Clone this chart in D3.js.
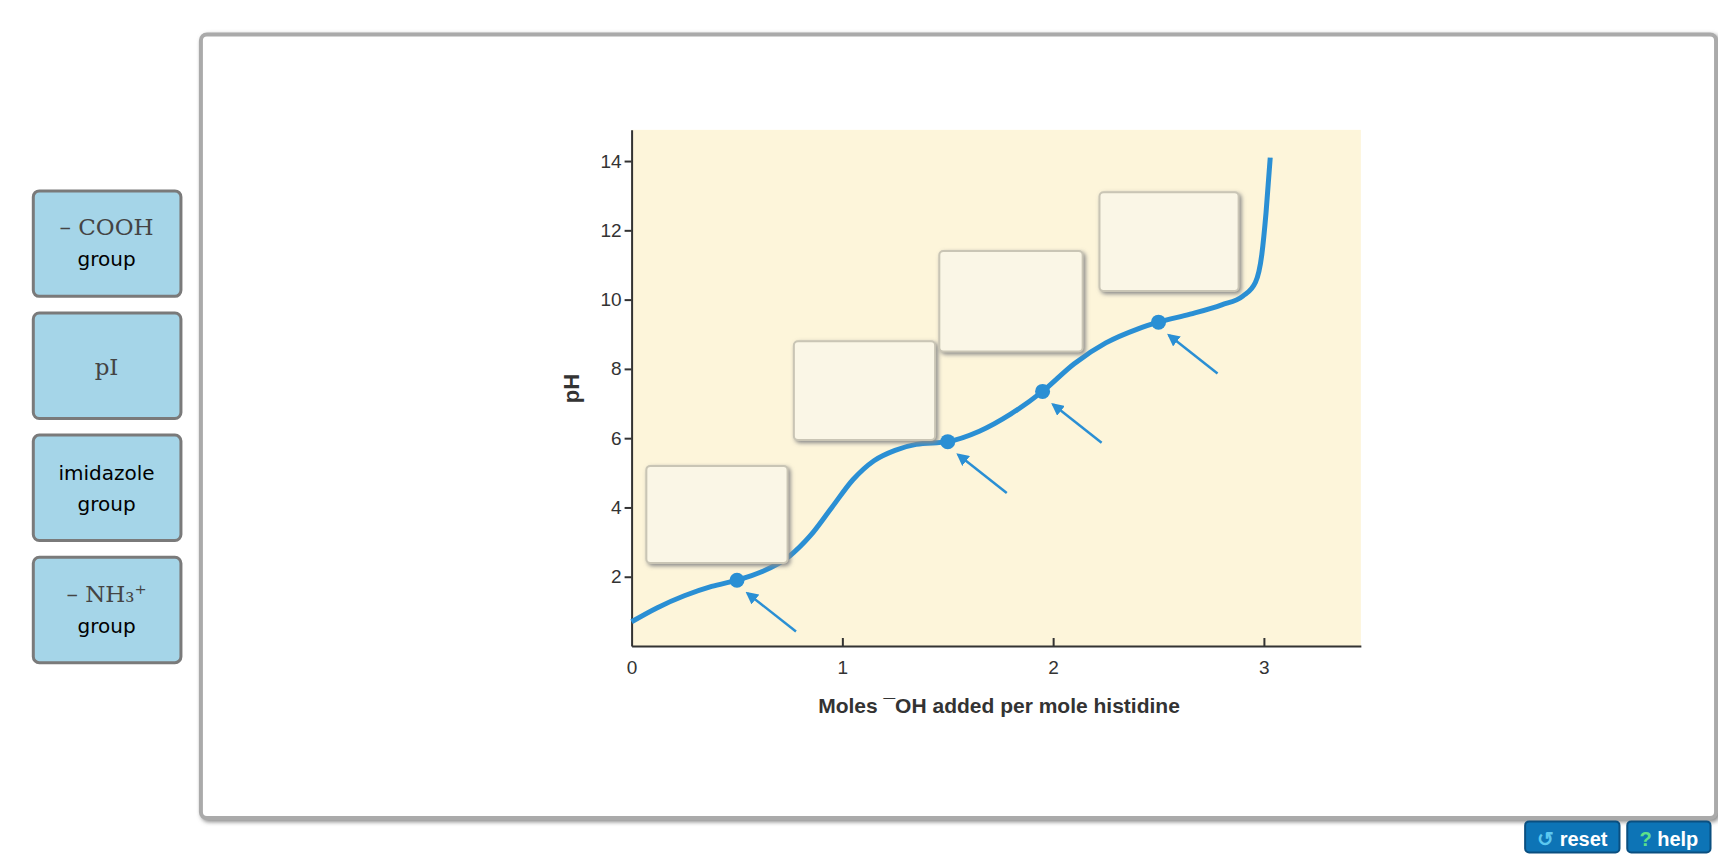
<!DOCTYPE html>
<html><head><meta charset="utf-8">
<script src="https://cdn.jsdelivr.net/npm/d3@7"></script>
<style>body{margin:0;background:#fff;overflow:hidden}</style>
</head><body>
<svg id="c" width="1718" height="858"></svg>
<script>
// titration curve of histidine (pH vs moles OH- added)
var curveX = [0, 0.12, 0.25, 0.38, 0.5, 0.62, 0.75, 0.85, 0.95, 1.05, 1.15, 1.25, 1.35, 1.5, 1.65, 1.8, 1.95, 2.1, 2.25, 2.4, 2.5, 2.65, 2.8, 2.9, 2.96, 2.99, 3.01, 3.03];
var curveY = [0.7, 1.1, 1.45, 1.72, 1.9, 2.15, 2.6, 3.2, 4.0, 4.8, 5.35, 5.65, 5.82, 5.9, 6.2, 6.7, 7.35, 8.15, 8.75, 9.15, 9.35, 9.58, 9.85, 10.1, 10.5, 11.3, 12.5, 14.1];
var pointX = [0.5, 1.5, 1.95, 2.5];
var pointY = [1.9, 5.9, 7.35, 9.35];
var yTicks = [2, 4, 6, 8, 10, 12, 14];
var xTicks = [0, 1, 2, 3];
var labels = ["– COOH|group", "pI|", "imidazole|group", "– NH₃⁺|group"];
// drop targets [x0,x1,yTop,yBottom] in data units
var boxX0 = [0.07, 0.77, 1.46, 2.22], boxX1 = [0.74, 1.44, 2.14, 2.88];
var boxY0 = [5.2, 8.8, 11.4, 13.1], boxY1 = [2.4, 5.95, 8.5, 10.25];

var f = 1.11;
var svg = d3.select("#c");
var defs = svg.append("defs");
var fl = defs.append("filter").attr("id", "sh").attr("x", "-5%").attr("y", "-5%").attr("width", "115%").attr("height", "115%");
fl.append("feDropShadow").attr("dx", 2).attr("dy", 2).attr("stdDeviation", 2).attr("flood-color", "#888");

// panel
svg.append("rect").attr("x", 181*f).attr("y", 31*f).attr("width", 1365*f).attr("height", 706*f).attr("rx", 6)
  .attr("fill", "#fff").attr("stroke", "#aaa").attr("stroke-width", 4).attr("filter", "url(#sh)");

// label tiles
labels.forEach(function(t, i) {
  var y = (172 + i*110)*f, parts = t.split("|");
  svg.append("rect").attr("x", 30*f).attr("y", y).attr("width", 133*f).attr("height", 95*f).attr("rx", 6)
    .attr("fill", "#a5d5e8").attr("stroke", "#7a7a7a").attr("stroke-width", 3);
  var math = parts[0];
  var single = parts[1] === "";
  var plain = math === "imidazole";
  svg.append("text").attr("x", 96*f).attr("y", y + (single ? 56 : 40)*f).attr("text-anchor", "middle")
    .attr("font-family", plain ? "DejaVu Sans" : "DejaVu Serif, serif").attr("font-size", plain ? 20 : 23)
    .attr("fill", plain ? "#000" : "#444").text(math);
  if (!single) svg.append("text").attr("x", 96*f).attr("y", y + 68*f).attr("text-anchor", "middle")
    .attr("font-family", "DejaVu Sans").attr("font-size", 20).text(parts[1]);
});

// chart
var x = d3.scaleLinear().domain([0, 3.46]).range([569*f, 1226*f]);
var y = d3.scaleLinear().domain([0, 14.9]).range([582*f, 117*f]);
svg.append("rect").attr("x", x(0)).attr("y", y(14.9)).attr("width", x(3.46)-x(0)).attr("height", y(0)-y(14.9)).attr("fill", "#fdf5da");

svg.append("g").attr("transform", "translate(0," + y(0) + ")")
  .call(d3.axisBottom(x).tickValues(xTicks).tickFormat(d3.format("d")).tickSize(-8).tickPadding(14).tickSizeOuter(0))
  .call(function(g){ g.selectAll("text").attr("font-family","Liberation Sans").attr("font-size",19).attr("fill","#333"); g.selectAll("line,path").attr("stroke","#333").attr("stroke-width",2); g.selectAll(".tick").filter(function(d){return d===0;}).select("line").remove(); });
svg.append("g").attr("transform", "translate(" + x(0) + ",0)")
  .call(d3.axisLeft(y).tickValues(yTicks).tickSize(7).tickSizeOuter(0))
  .call(function(g){ g.selectAll("text").attr("font-family","Liberation Sans").attr("font-size",19).attr("fill","#333"); g.selectAll("line,path").attr("stroke","#333").attr("stroke-width",2); });

svg.append("text").attr("transform", "translate(" + 522*f + "," + 350*f + ") rotate(-90)").attr("text-anchor", "middle")
  .attr("font-family", "Liberation Sans").attr("font-weight", "bold").attr("font-size", 22).attr("fill", "#333").text("pH");
svg.append("text").attr("x", 900*f).attr("y", 642*f).attr("text-anchor", "middle")
  .attr("font-family", "Liberation Sans").attr("font-weight", "bold").attr("font-size", 21).attr("fill", "#333")
  .text("Moles ¯OH added per mole histidine");

var line = d3.line().x(function(d){return x(d[0]);}).y(function(d){return y(d[1]);}).curve(d3.curveMonotoneX);
svg.append("path").datum(curveX.map(function(v, i){ return [v, curveY[i]]; }))
  .attr("d", line).attr("fill", "none").attr("stroke", "#2a8fd4").attr("stroke-width", 5);

defs.append("marker").attr("id", "ah").attr("viewBox", "0 0 10 10").attr("refX", 8).attr("refY", 5)
  .attr("markerWidth", 5).attr("markerHeight", 5).attr("orient", "auto")
  .append("path").attr("d", "M0,0L10,5L0,10z").attr("fill", "#2a8fd4");
pointX.forEach(function(px, i) {
  var py = pointY[i];
  svg.append("line").attr("x1", x(px + 0.28)).attr("y1", y(py - 1.48)).attr("x2", x(px + 0.05)).attr("y2", y(py - 0.38))
    .attr("stroke", "#2a8fd4").attr("stroke-width", 2.5).attr("marker-end", "url(#ah)");
  svg.append("circle").attr("cx", x(px)).attr("cy", y(py)).attr("r", 7.5).attr("fill", "#2a8fd4");
});

boxX0.forEach(function(bx, i) {
  svg.append("rect").attr("x", x(bx)).attr("y", y(boxY0[i])).attr("width", x(boxX1[i]) - x(bx)).attr("height", y(boxY1[i]) - y(boxY0[i]))
    .attr("rx", 4).attr("fill", "#faf6e6").attr("stroke", "#c9c5b5").attr("stroke-width", 2).attr("filter", "url(#sh)");
});

// buttons
[["↺ reset", 1374, 85], ["? help", 1466, 75]].forEach(function(b) {
  svg.append("rect").attr("x", b[1]*f).attr("y", 740*f).attr("width", b[2]*f).attr("height", 28*f).attr("rx", 4)
    .attr("fill", "#0d74b6").attr("stroke", "#0a4f80").attr("stroke-width", 2);
  var t = svg.append("text").attr("x", (b[1] + b[2]/2)*f).attr("y", 762*f).attr("text-anchor", "middle")
    .attr("font-family", "Liberation Sans").attr("font-weight", "bold").attr("font-size", 20).attr("fill", "#fff");
  var p = b[0].split(" ");
  t.append("tspan").attr("fill", p[0] === "?" ? "#5ee08a" : "#5cc8f0").text(p[0] + " ");
  t.append("tspan").text(p[1]);
});
</script>
</body></html>
